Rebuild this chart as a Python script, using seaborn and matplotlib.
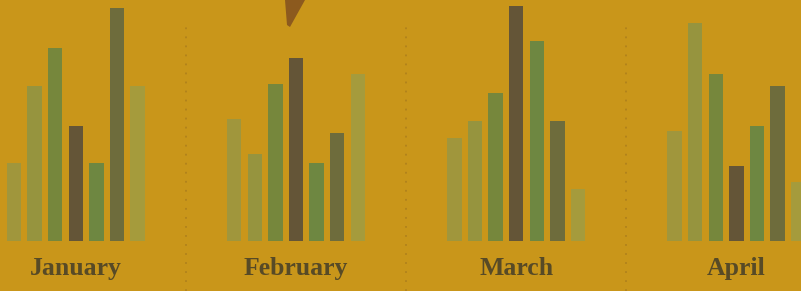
import matplotlib
matplotlib.use("Agg")
import matplotlib.pyplot as plt
from matplotlib.patches import Polygon
import pandas as pd
import seaborn as sns

# dados (escala arbitraria 0-100)
months = ["January", "February", "March", "April"]
series = ["s1", "s2", "s3", "s4", "s5", "s6", "s7"]
jan = [33, 66, 82, 49, 33, 99, 66]
feb = [52, 37, 67, 78, 33, 46, 71]
mar = [44, 51, 63, 100, 85, 51, 22]
apr = [47, 93, 71, 32, 49, 66, 25]
colors = ["#a0963c", "#96943e", "#76873c", "#645537", "#6e8741", "#6e6c3c", "#a59b3c"]

bg = "#c9961a"
text_color = "#574a26"

# tabela longa para o seaborn
rows = []
for m, vals in zip(months, [jan, feb, mar, apr]):
    for s, v in zip(series, vals):
        rows.append({"month": m, "serie": s, "valor": v})
df = pd.DataFrame(rows)

sns.set_style("white")
fig = plt.figure(figsize=(8.01, 2.91), dpi=100, facecolor=bg)
ax = fig.add_axes([0, 0, 1, 1])
ax.set_facecolor(bg)

sns.barplot(data=df, x="month", y="valor", hue="serie", order=months, hue_order=series,
            palette=colors, width=0.655, gap=0.3, saturation=1, legend=False,
            linewidth=0, edgecolor="none", ax=ax)

ax.set_xlim(-0.344, 3.293)
ax.set_ylim(-21.3, 102.6)
for sp in ax.spines.values():
    sp.set_visible(False)
ax.set_xticks([])
ax.set_yticks([])
ax.set_xlabel("")
ax.set_ylabel("")

# separadores pontilhados
for xs in [0.5, 1.5, 2.5]:
    ax.axvline(xs, ymin=0, ymax=0.92, color="#b0821c", lw=1.3, linestyle=(0, (1, 4)))

# nomes dos meses
for i, m in enumerate(months):
    ax.text(i, 0.055, m, transform=ax.get_xaxis_transform(), ha="center", va="baseline",
            fontsize=18.5, fontweight="bold", family="Liberation Serif", color=text_color)

# ponta marrom no topo
tip = Polygon([(285 / 801, 1.0), (305 / 801, 1.0), (290 / 801, 1 - 27 / 291), (287 / 801, 1 - 25 / 291)],
              closed=True, transform=fig.transFigure, facecolor="#8c5a1e", edgecolor="none")
fig.patches.append(tip)

fig.savefig("out.png", dpi=100, facecolor=bg)
